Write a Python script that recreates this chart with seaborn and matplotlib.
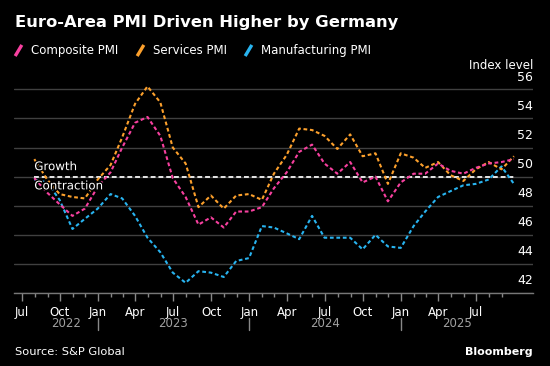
import matplotlib
matplotlib.use("Agg")
import numpy as np
import pandas as pd
import matplotlib.pyplot as plt
import matplotlib.dates as mdates
import matplotlib.ticker as mticker
import matplotlib.transforms as mtransforms
import matplotlib.patheffects as pe
from matplotlib.lines import Line2D
import seaborn as sns

# ---------------- data ----------------
months = pd.period_range("2022-07", "2025-09", freq="M")
composite = [49.9, 48.9, 48.1, 47.3, 47.8, 49.3,
             50.3, 52.0, 53.7, 54.1, 52.8, 49.9, 48.6, 46.7, 47.2, 46.5, 47.6, 47.6,
             47.9, 49.2, 50.3, 51.7, 52.2, 50.9, 50.2, 51.0, 49.6, 50.0, 48.3, 49.6,
             50.2, 50.2, 50.9, 50.4, 50.2, 50.6, 50.9, 51.0, 51.2]
services = [51.2, 49.8, 48.8, 48.6, 48.5, 49.8,
            50.8, 52.7, 55.0, 56.2, 55.1, 52.0, 50.9, 47.9, 48.7, 47.8, 48.7, 48.8,
            48.4, 50.2, 51.5, 53.3, 53.2, 52.8, 51.9, 52.9, 51.4, 51.6, 49.5, 51.6,
            51.3, 50.6, 51.0, 50.1, 49.7, 50.5, 51.0, 50.5, 51.4]
manufacturing = [49.8, 49.6, 48.4, 46.4, 47.1, 47.8,
                 48.8, 48.5, 47.3, 45.8, 44.8, 43.4, 42.7, 43.5, 43.4, 43.1, 44.2, 44.4,
                 46.6, 46.5, 46.1, 45.7, 47.3, 45.8, 45.8, 45.8, 45.0, 46.0, 45.2, 45.1,
                 46.6, 47.6, 48.6, 49.0, 49.4, 49.5, 49.8, 50.7, 49.5]
series_names = ["Composite PMI", "Services PMI", "Manufacturing PMI"]
series_colors = ["#f7409f", "#fca02c", "#28b3ef"]
y_ticks = [42, 44, 46, 48, 50, 52, 54, 56]
year_labels = ["2022", "2023", "2024", "2025"]
year_label_pos = ["2022-10-15", "2023-07-01", "2024-07-01", "2025-05-15"]
year_breaks = ["2023-01-01", "2024-01-01", "2025-01-01"]
threshold = 50

title = "Euro-Area PMI Driven Higher by Germany"
source = "Source: S&P Global"

# ---------------- frame ----------------
dates = months.to_timestamp(how="end").normalize()
month_starts = months.to_timestamp(how="start")
df = pd.DataFrame({
    "date": np.tile(dates, 3),
    "value": composite + services + manufacturing,
    "series": np.repeat(series_names, len(dates)),
})

sns.set_theme(style="dark", rc={
    "axes.facecolor": "black", "figure.facecolor": "black",
    "savefig.facecolor": "black", "text.color": "white",
    "axes.edgecolor": "#777777",
})
plt.rcParams["font.family"] = ["DejaVu Sans"]
narrow = ["Liberation Sans Narrow", "DejaVu Sans"]

fig = plt.figure(figsize=(5.5, 3.66), dpi=100)
ax = fig.add_axes([14 / 550, 0.19945, 519 / 550, 0.5963])

palette = dict(zip(series_names, series_colors))
sns.lineplot(data=df, x="date", y="value", hue="series", hue_order=series_names[::-1],
             palette=palette, linestyle=(0, (1.8, 1.3)), linewidth=1.5,
             errorbar=None, legend=False, ax=ax, zorder=3)

# threshold line
ax.hlines(threshold, dates[0], dates[-1], colors="#e6e6e6",
          linestyles=(0, (2.5, 1.5)), linewidth=1.4, zorder=2)
halo = [pe.withStroke(linewidth=2, foreground="black")]
ax.annotate("Growth", (dates[0], threshold), xytext=(0, 2.5), textcoords="offset points",
            ha="left", va="bottom", color="white", fontsize=8.5, path_effects=halo, zorder=4)
ax.annotate("Contraction", (dates[0], threshold), xytext=(0, -2.0), textcoords="offset points",
            ha="left", va="top", color="white", fontsize=8.5, path_effects=halo, zorder=4)

# axes limits
ax.set_xlim(pd.Timestamp("2022-06-12"), pd.Timestamp("2025-11-15"))
ax.set_ylim(42, 57)
ax.set_xlabel("")
ax.set_ylabel("")

# y axis
ax.yaxis.tick_right()
ax.set_yticks(y_ticks)
ax.set_yticklabels([str(v) for v in y_ticks])
ax.tick_params(axis="y", length=0, pad=0, labelsize=9, labelcolor="white")
offset = mtransforms.ScaledTranslation(0, 4 / 72, fig.dpi_scale_trans)
for lbl in ax.get_yticklabels():
    lbl.set_ha("right")
    lbl.set_va("bottom")
    lbl.set_family(narrow)
    lbl.set_transform(lbl.get_transform() + offset)
ax.yaxis.grid(True, color="#404040", linewidth=1)
ax.xaxis.grid(False)

# x axis: ticks only across the data range
major = [d for d in month_starts if d.month in (1, 4, 7, 10)]
ax.xaxis.set_major_locator(mticker.FixedLocator(mdates.date2num(major)))
ax.xaxis.set_major_formatter(mdates.DateFormatter("%b"))
ax.xaxis.set_minor_locator(mticker.FixedLocator(mdates.date2num(list(month_starts))))
ax.tick_params(axis="x", which="major", length=6, width=1, color="#888888",
               pad=3, labelsize=8.5, labelcolor="white", bottom=True)
ax.tick_params(axis="x", which="minor", length=3, width=1, color="#888888", bottom=True)
for lbl in ax.get_xticklabels():
    lbl.set_family(narrow)

for s in ["top", "left", "right"]:
    ax.spines[s].set_visible(False)
ax.spines["bottom"].set_color("#777777")
ax.spines["bottom"].set_linewidth(1)

# year labels and separators
xt = mtransforms.blended_transform_factory(ax.transData, ax.transAxes)
for lab, pos in zip(year_labels, year_label_pos):
    ax.text(pd.Timestamp(pos), -0.142, lab, transform=xt, ha="center", va="center",
            color="#a0a0a0", fontsize=8.5, family=narrow)
for b in year_breaks:
    xb = mdates.date2num(pd.Timestamp(b))
    ax.add_line(Line2D([xb, xb], [-0.115, -0.17], transform=xt, color="#888888",
                       linewidth=1, clip_on=False))

ax.text(1.0, 1.0446, "Index level", transform=ax.transAxes, ha="right", va="center",
        fontsize=8.5, color="white", family=narrow)

# title, legend, footer
fig.text(15 / 550, 1 - 22 / 366, title, ha="left", va="center", fontsize=11.8,
         fontweight="bold", color="white")
slash = [(-0.6, -1.0), (0.6, 1.0)]
handles = [Line2D([], [], color=c, marker=slash, markersize=8, markeredgewidth=2.4,
                  markeredgecolor=c, linestyle="none") for c in series_colors]
fig.legend(handles, series_names, loc="upper left", bbox_to_anchor=(13 / 550, 1 - 44 / 366),
           ncol=3, frameon=False, fontsize=8.5, handlelength=0.9, handletextpad=0.65,
           columnspacing=1.35, borderpad=0, borderaxespad=0, labelcolor="white")
fig.text(15 / 550, 1 - 352 / 366, source, ha="left", va="center", fontsize=8.2, color="white")
fig.text(533 / 550, 1 - 352 / 366, "Bloomberg", ha="right", va="center", fontsize=8,
         fontweight="bold", color="white")

fig.savefig("out.png", dpi=100, facecolor="black")
